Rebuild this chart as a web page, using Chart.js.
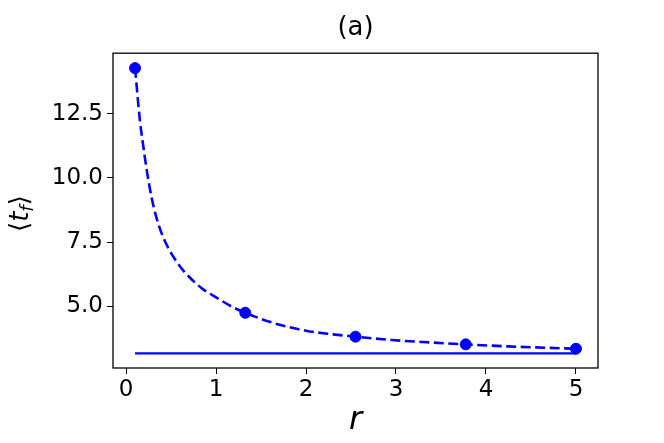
<!DOCTYPE html>
<html>
<head>
<meta charset="utf-8">
<script src="https://cdn.jsdelivr.net/npm/chart.js@4.4.1/dist/chart.umd.min.js"></script>
<style>
  body { margin: 0; background: #fff; }
</style>
</head>
<body>
<canvas id="chart" width="664" height="443"></canvas>
<script>
// dashed curve
const curveR = [0.1, 0.155, 0.185, 0.23, 0.28, 0.33, 0.4, 0.48, 0.6, 0.7, 0.85, 1.0, 1.18, 1.325, 1.64, 2.0, 2.3, 2.55, 2.95, 3.3, 3.775, 4.25, 4.65, 5.0];
const curveT = [14.27, 12.2, 11.4, 10.3, 9.3, 8.55, 7.8, 7.2, 6.55, 6.15, 5.68, 5.35, 4.98, 4.75, 4.35, 4.05, 3.91, 3.82, 3.69, 3.61, 3.52, 3.44, 3.39, 3.35];

// markers
const pointR = [0.1, 1.325, 2.55, 3.775, 5.0];
const pointT = [14.27, 4.75, 3.82, 3.52, 3.35];

// solid horizontal line
const flatR = [0.1, 5.0];
const flatT = [3.17, 3.17];

const xTicks = [0, 1, 2, 3, 4, 5];
const yTicks = [5, 7.5, 10, 12.5];

const blue = '#0000ff';
const tickFont = { family: 'DejaVu Sans', size: 23 };

function toXY(xs, ys) {
    return xs.map((x, i) => ({ x: x, y: ys[i] }));
}

// box around the axes + y label with subscript
const framePlugin = {
    id: 'frame',
    afterDraw(chart) {
        const { ctx, chartArea: a } = chart;
        ctx.save();
        ctx.strokeStyle = '#000';
        ctx.lineWidth = 1.3;
        ctx.strokeRect(a.left, a.top, a.right - a.left, a.bottom - a.top);

        ctx.translate(28, (a.top + a.bottom) / 2 + 3);
        ctx.rotate(-Math.PI / 2);
        ctx.fillStyle = '#000';
        ctx.textBaseline = 'alphabetic';
        const big = "26px 'DejaVu Sans'";
        const bigIt = "italic 26px 'DejaVu Sans'";
        const small = "italic 18px 'DejaVu Sans'";
        const parts = [
            { t: '\u27E8', f: big, dy: 0 },
            { t: 't', f: bigIt, dy: 0 },
            { t: 'f', f: small, dy: 5 },
            { t: '\u27E9', f: big, dy: 0 }
        ];
        let w = 0;
        parts.forEach(p => { ctx.font = p.f; p.w = ctx.measureText(p.t).width; w += p.w; });
        let x = -w / 2;
        parts.forEach(p => { ctx.font = p.f; ctx.fillText(p.t, x, p.dy); x += p.w; });
        ctx.restore();
    }
};

new Chart(document.getElementById('chart').getContext('2d'), {
    type: 'scatter',
    data: {
        datasets: [
            {
                data: toXY(curveR, curveT),
                showLine: true,
                borderColor: blue,
                borderWidth: 2.6,
                borderDash: [10, 4.5],
                pointRadius: 0,
                cubicInterpolationMode: 'monotone'
            },
            {
                data: toXY(pointR, pointT),
                showLine: false,
                pointRadius: 5.5,
                pointBackgroundColor: blue,
                pointBorderColor: blue
            },
            {
                data: toXY(flatR, flatT),
                showLine: true,
                borderColor: blue,
                borderWidth: 2.4,
                pointRadius: 0
            }
        ]
    },
    options: {
        responsive: false,
        animation: false,
        layout: { padding: { left: 0, right: 66, top: 0, bottom: 0 } },
        plugins: {
            legend: { display: false },
            tooltip: { enabled: false },
            title: {
                display: true,
                text: '(a)',
                fullSize: false,
                color: '#000',
                font: { family: 'DejaVu Sans', size: 26, weight: 'normal' },
                padding: { top: 13, bottom: 9 }
            }
        },
        scales: {
            x: {
                type: 'linear',
                min: -0.145,
                max: 5.245,
                afterBuildTicks: s => { s.ticks = xTicks.map(v => ({ value: v })); },
                afterFit: s => { s.height = 443 - 368; },
                grid: { drawOnChartArea: false, tickLength: 6, tickColor: '#000' },
                border: { display: false },
                ticks: { color: '#000', font: tickFont, padding: 2, maxRotation: 0 },
                title: {
                    display: true,
                    text: 'r',
                    color: '#000',
                    font: { family: 'DejaVu Sans', size: 32, style: 'italic' },
                    padding: { top: 0, bottom: 3 }
                }
            },
            y: {
                type: 'linear',
                min: 2.6,
                max: 14.85,
                afterBuildTicks: s => { s.ticks = yTicks.map(v => ({ value: v })); },
                afterFit: s => { s.width = 113; },
                grid: { drawOnChartArea: false, tickLength: 6, tickColor: '#000' },
                border: { display: false },
                ticks: {
                    color: '#000',
                    font: tickFont,
                    padding: 4,
                    callback: v => v.toFixed(1)
                }
            }
        }
    },
    plugins: [framePlugin]
});
</script>
</body>
</html>
